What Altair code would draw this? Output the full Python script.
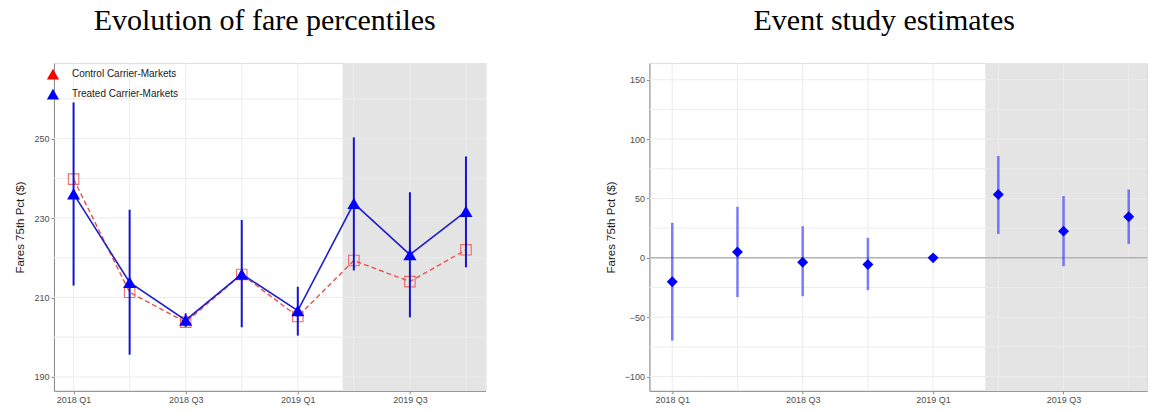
import altair as alt
import pandas as pd

# ---------------- data ----------------
quarters = ["2018 Q1", "2018 Q2", "2018 Q3", "2018 Q4", "2019 Q1", "2019 Q2", "2019 Q3", "2019 Q4"]
qidx = [0, 1, 2, 3, 4, 5, 6, 7]
tick_q = [0, 2, 4, 6]

series_names = ["Control Carrier-Markets", "Treated Carrier-Markets"]
treated = [236.1, 213.8, 204.3, 215.9, 206.7, 233.7, 220.8, 231.7]
treated_lo = [213.0, 195.6, 202.6, 202.5, 200.4, 216.8, 205.0, 217.6]
treated_hi = [259.1, 232.1, 206.0, 229.5, 212.7, 250.3, 236.5, 245.5]
control = [239.8, 211.3, 203.8, 215.8, 205.2, 219.3, 214.0, 222.0]

es = [-20.2, 5.0, -3.7, -5.6, 0.0, 53.4, 22.5, 34.6]
es_lo = [-69.7, -33.0, -32.3, -27.2, 0.0, 20.2, -7.0, 11.8]
es_hi = [29.5, 43.0, 26.7, 16.9, 0.0, 85.7, 52.0, 57.6]

shade_start = [4.8]

left_y_ticks = [190, 210, 230, 250]
left_y_grid = [190, 200, 210, 220, 230, 240, 250, 260]
right_y_ticks = [-100, -50, 0, 50, 100, 150]
right_y_grid = [-100, -75, -50, -25, 0, 25, 50, 75, 100, 125, 150]

# ---------------- styling ----------------
SANS = "Liberation Sans"
SERIF = "Liberation Serif"
GRID = "#ececec"
SHADE = "#e4e4e4"
label_expr = "[" + ",".join("'%s'" % q for q in quarters) + "][datum.value]"

def x_axis():
    return alt.Axis(values=tick_q, labelExpr=label_expr, title=None, grid=False,
                    domainColor="#8a8a8a", tickColor="#8a8a8a", tickSize=3,
                    labelColor="#4d4d4d", labelFont=SANS, labelFontSize=9, labelPadding=2,
                    labelFlush=False)

def y_axis(vals):
    return alt.Axis(values=vals, title="Fares 75th Pct ($)", grid=False,
                    domainColor="#8a8a8a", tickColor="#8a8a8a", tickSize=3,
                    labelColor="#4d4d4d", labelFont=SANS, labelFontSize=9, labelPadding=2,
                    titleFont=SANS, titleFontSize=11.5, titleFontWeight="normal",
                    titleColor="#1a1a1a", titlePadding=8)

def panel(x_domain, y_domain, y_ticks, y_grid, width, height):
    xs = alt.Scale(domain=x_domain, nice=False, zero=False)
    ys = alt.Scale(domain=y_domain, nice=False, zero=False)
    X = lambda f: alt.X(f, scale=xs, axis=x_axis())
    Y = lambda f: alt.Y(f, scale=ys, axis=y_axis(y_ticks))
    shade = alt.Chart(pd.DataFrame({"s": shade_start})).mark_rect(color=SHADE).encode(
        x=X("s:Q"), x2=alt.value("width"), y=alt.value(0), y2=alt.value("height"))
    vgrid = alt.Chart(pd.DataFrame({"g": qidx})).mark_rule(color=GRID, strokeWidth=1).encode(x=X("g:Q"))
    hgrid = alt.Chart(pd.DataFrame({"g": y_grid})).mark_rule(color=GRID, strokeWidth=1).encode(y=Y("g:Q"))
    return X, Y, [shade, vgrid, hgrid]

W_L, W_R, H = 432, 498, 328
TITLE_SIZE = 30
TITLE_OFFSET = 27

# ---------------- left panel ----------------
df_t = pd.DataFrame({"q": qidx, "v": treated, "lo": treated_lo, "hi": treated_hi,
                     "series": [series_names[1]] * len(qidx)})
df_c = pd.DataFrame({"q": qidx, "v": control, "series": [series_names[0]] * len(qidx)})
df_all = pd.concat([df_c, df_t], ignore_index=True)

XL, YL, base_l = panel([-0.35, 7.35], [186.5, 269], left_y_ticks, left_y_grid, W_L, H)

c_line = alt.Chart(df_c).mark_line(color="#e8534e", strokeDash=[5, 3], strokeWidth=1.4).encode(
    x=XL("q:Q"), y=YL("v:Q"))
c_pts = alt.Chart(df_c).mark_point(shape="square", filled=False, color="#ea5550", size=110,
                                  strokeWidth=1.1, opacity=0.85).encode(x=XL("q:Q"), y=YL("v:Q"))
t_err = alt.Chart(df_t).mark_rule(color="#1414d2", strokeWidth=2).encode(
    x=XL("q:Q"), y=YL("lo:Q"), y2="hi:Q")
t_line = alt.Chart(df_t).mark_line(color="#2020c8", strokeWidth=1.6).encode(x=XL("q:Q"), y=YL("v:Q"))
t_pts = alt.Chart(df_all).transform_filter(
    alt.datum.series == series_names[1]
).mark_point(shape="triangle-up", filled=True, size=170, opacity=1).encode(
    x=XL("q:Q"), y=YL("v:Q"),
    color=alt.Color("series:N", scale=alt.Scale(domain=series_names, range=["#ff0000", "#0000ff"]),
                    legend=alt.Legend(title=None, orient="none", legendX=-8, legendY=4,
                                      labelFont=SANS, labelFontSize=10, labelColor="#1a1a1a",
                                      symbolType="triangle-up", symbolSize=150, rowPadding=7,
                                      labelOffset=12, padding=0)))

left = alt.layer(*base_l, c_line, c_pts, t_err, t_line, t_pts).properties(
    width=W_L, height=H,
    title=alt.TitleParams("Evolution of fare percentiles", font=SERIF, fontSize=TITLE_SIZE,
                          fontWeight="normal", color="#000000", anchor="middle", frame="group",
                          dx=-5, offset=TITLE_OFFSET))

# ---------------- right panel ----------------
df_e = pd.DataFrame({"q": qidx, "v": es, "lo": es_lo, "hi": es_hi})
XR, YR, base_r = panel([-0.35, 7.28], [-112, 164], right_y_ticks, right_y_grid, W_R, H)

zero = alt.Chart(pd.DataFrame({"z": [0]})).mark_rule(color="#b4b4b4", strokeWidth=1.5).encode(y=YR("z:Q"))
e_err = alt.Chart(df_e).mark_rule(color="#0000ff", opacity=0.5, strokeWidth=2.5).encode(
    x=XR("q:Q"), y=YR("lo:Q"), y2="hi:Q")
e_pts = alt.Chart(df_e).mark_point(shape="diamond", filled=True, color="#0000ff", size=120,
                                  opacity=1).encode(x=XR("q:Q"), y=YR("v:Q"))

right = alt.layer(*base_r, zero, e_err, e_pts).properties(
    width=W_R, height=H,
    title=alt.TitleParams("Event study estimates", font=SERIF, fontSize=TITLE_SIZE,
                          fontWeight="normal", color="#000000", anchor="middle", frame="group",
                          dx=-14, offset=TITLE_OFFSET))

chart = alt.hconcat(left, right, spacing=118).properties(
    padding={"left": 14, "top": 5, "right": 0, "bottom": 0}
).configure_view(stroke=None).configure(background="white")

chart.save("out.html", embed_options={"renderer": "svg", "actions": False})
